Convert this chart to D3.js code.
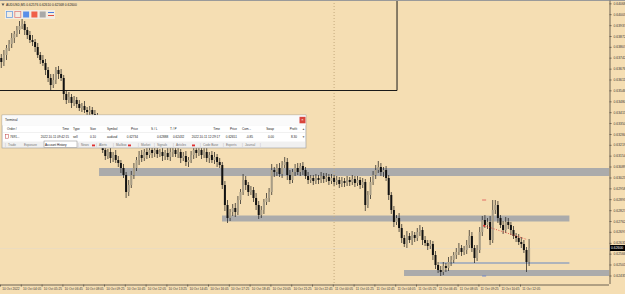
<!DOCTYPE html>
<html><head><meta charset="utf-8">
<script src="https://cdn.jsdelivr.net/npm/d3@7"></script>
<style>html,body{margin:0;padding:0;background:#F5DEB3;overflow:hidden}svg{display:block}text{font-family:"Liberation Sans",Arial,sans-serif}</style>
</head><body><svg id="c" width="625" height="294"></svg>
<script>
// ---------- data ----------
const closes = [
0.63716,0.63758,0.63800,0.63824,0.63860,0.63884,0.63908,0.63932,0.63944,0.63908,
0.63878,0.63848,0.63836,0.63806,0.63758,0.63728,0.63710,0.63668,0.63620,0.63578,
0.63608,0.63668,0.63644,0.63620,0.63524,0.63488,0.63506,0.63470,0.63488,0.63464,
0.63440,0.63452,0.63428,0.63416,0.63428,0.63404,0.63392,0.63320,0.63248,0.63188,
0.63152,0.63176,0.63140,0.63158,0.63128,0.63110,0.63080,0.63038,0.62936,0.62978,
0.63038,0.63080,0.63128,0.63158,0.63140,0.63176,0.63158,0.63188,0.63170,0.63188,
0.63164,0.63176,0.63152,0.63170,0.63146,0.63176,0.63188,0.63164,0.63176,0.63140,
0.63152,0.63116,0.63128,0.63158,0.63188,0.63170,0.63188,0.63158,0.63176,0.63140,
0.63158,0.63128,0.63146,0.63116,0.63098,0.62978,0.62858,0.62780,0.62816,0.62840,
0.62816,0.62888,0.62936,0.63008,0.62978,0.62936,0.62948,0.62900,0.62858,0.62798,
0.62828,0.62876,0.62900,0.62936,0.63068,0.63056,0.63080,0.63044,0.63098,0.63116,
0.63038,0.63008,0.63056,0.63080,0.63056,0.63092,0.63068,0.63032,0.63008,0.63020,
0.63002,0.63020,0.63008,0.63032,0.63014,0.63026,0.63002,0.63020,0.62996,0.63008,
0.62984,0.63002,0.62990,0.63008,0.62996,0.63014,0.62990,0.63008,0.62978,0.62996,
0.62858,0.62918,0.62996,0.63038,0.63068,0.63086,0.63056,0.63068,0.63020,0.62918,
0.62828,0.62756,0.62780,0.62720,0.62660,0.62624,0.62672,0.62648,0.62678,0.62660,
0.62696,0.62708,0.62648,0.62630,0.62612,0.62624,0.62558,0.62498,0.62468,0.62456,
0.62492,0.62480,0.62516,0.62528,0.62558,0.62576,0.62600,0.62576,0.62588,0.62618,
0.62672,0.62600,0.62540,0.62588,0.62696,0.62768,0.62738,0.62756,0.62648,0.62828,
0.62858,0.62780,0.62738,0.62708,0.62756,0.62738,0.62708,0.62672,0.62660,0.62636,
0.62624,0.62588,0.62516,0.62600
];
const firstOpen = 0.63740;
// wick extensions above / below the candle body, in points (0.00001)
const wickUp = [
24,30,18,24,30,18,24,30,30,18, 18,24,30,18,24,18,30,24,18,24, 36,18,24,30,18,24,30,18,24,18,
24,18,30,18,24,18,24,18,30,24, 30,18,24,18,30,24,18,24,18,30, 24,30,18,24,30,18,24,30,18,24,
30,18,24,18,30,24,18,30,24,18, 24,30,18,24,18,30,24,18,24,30, 18,24,30,18,24,18,24,30,18,24,
30,24,18,36,24,18,24,18,30,24, 24,18,30,24,36,18,24,30,24,30, 24,30,18,24,30,18,24,18,24,18,
18,24,18,24,18,24,18,24,18,24, 18,24,18,24,18,24,18,24,18,24, 18,24,30,24,30,36,24,18,24,18,
18,24,18,30,24,18,30,18,24,18, 24,30,18,24,18,24,18,24,18,24, 24,18,30,24,18,24,30,18,24,30,
36,24,18,30,30,24,30,24,36,60, 30,24,18,24,30,24,18,24,18,24, 30,24,18,54
];
const wickDown = [
36,24,30,18,24,30,18,24,18,30, 24,18,24,30,18,24,18,30,24,36, 18,24,30,18,36,24,18,30,18,24,
18,24,18,24,18,30,24,30,24,18, 24,18,30,24,18,24,30,18,36,24, 18,24,18,30,24,18,24,18,30,24,
24,18,30,24,18,24,30,18,24,30, 18,24,30,18,24,30,18,24,18,24, 30,18,24,30,18,24,36,30,18,24,
30,18,24,18,30,24,18,24,30,24, 18,24,18,24,18,30,24,18,24,18, 30,24,18,24,18,24,30,18,24,18,
24,18,24,18,24,18,24,18,24,18, 24,18,24,18,24,18,24,18,24,18, 36,18,24,18,24,18,24,30,18,30,
24,30,18,24,30,18,24,18,30,24, 18,24,30,18,24,18,30,24,18,24, 18,24,18,24,18,24,18,24,18,24,
18,24,30,18,18,24,18,24,30,18, 24,30,18,24,18,24,30,18,24,18, 24,18,60,24
];
const priceLabels = [0.64068,0.64003,0.63937,0.63872,0.63807,0.63742,0.63676,0.63611,0.63546,0.63480,
  0.63415,0.63350,0.63284,0.63219,0.63154,0.63089,0.63023,0.62958,0.62893,0.62827,
  0.62762,0.62697,0.62631,0.62566,0.62501,0.62435,0.62370];
const timeLabels = ["10 Oct 2022","10 Oct 04:05","10 Oct 05:25","10 Oct 06:45","10 Oct 08:05","10 Oct 09:25",
  "10 Oct 10:45","10 Oct 12:05","10 Oct 13:25","10 Oct 14:45","10 Oct 16:05","10 Oct 17:25","10 Oct 18:45",
  "10 Oct 20:05","10 Oct 21:25","10 Oct 22:45","11 Oct 00:05","11 Oct 01:25","11 Oct 02:45","11 Oct 04:05",
  "11 Oct 05:25","11 Oct 06:45","11 Oct 08:05","11 Oct 09:25","11 Oct 10:45","11 Oct 12:05"];
const timeLabelBars = [0,8,16,24,32,40,48,56,64,72,80,88,96,104,112,120,128,136,144,152,160,168,176,184,192,200];
const zoneTop    = [0.63080,0.62795,0.62516,0.62468];
const zoneBottom = [0.63032,0.62759,0.62504,0.62432];
const zoneStart  = [38.1,85.4,169.0,155.4];
const zoneEnd    = [234.3,219.0,219.0,234.3];
const boxBottom = 0.63548, boxRightBar = 152.7;
const separatorBar = 128.5;
const tradeOpenBar = 186.2, tradeOpenPrice = 0.62734;
const tradeCloseBar = 202.7, tradeClosePrice = 0.62651;
const tradeSL = 0.62888, tradeTP = 0.62432;
const currentPrice = 0.62600;
const headerText = "AUDUSD,M5  0.62576 0.62610 0.62568 0.62600";
const termHeaders = ["Order /","Time","Type","Size","Symbol","Price","S / L","T / P","Time","Price","Com...","Swap","Profit"];
const termRow = ["7691...","2022.10.11 09:42:15","sell","0.10","audusd","0.62734","0.62888","0.62432","2022.10.11 12:29:17","0.62651","-0.85","0.00","8.30"];
const termTabs = ["Trade","Exposure","Account History","News","Alerts","Mailbox","Market","Signals","Articles","Code Base","Experts","Journal"];

// ---------- layout ----------
const W=625,H=294,PR=609,PB=284;
const svg=d3.select("#c");
const x=d3.scaleLinear().domain([0,PR/2.6]).range([0,PR]);
const y=d3.scaleLinear().domain([0.62384,0.64088]).range([PB,0]);

svg.append("rect").attr("width",W).attr("height",H).attr("fill","#F5DEB3");

// zones
const zones=d3.range(zoneTop.length).map(i=>({t:zoneTop[i],b:zoneBottom[i],s:zoneStart[i],e:zoneEnd[i],i}));
svg.append("g").selectAll("rect").data(zones).join("rect")
  .attr("x",d=>x(d.s)).attr("width",d=>x(d.e)-x(d.s))
  .attr("y",d=>y(d.t)).attr("height",d=>y(d.b)-y(d.t))
  .attr("fill",d=>d.i===2?"#AEB3BB":"#ABABAB");

// period separator
svg.append("line").attr("x1",x(separatorBar)).attr("x2",x(separatorBar)).attr("y1",0).attr("y2",PB)
  .attr("stroke","#c4aa7e").attr("stroke-dasharray","1,2");

// bid line
svg.append("line").attr("x1",0).attr("x2",PR).attr("y1",Math.round(y(currentPrice))+0.5).attr("y2",Math.round(y(currentPrice))+0.5)
  .attr("stroke","#ecdcbf");

// box
svg.append("path").attr("d",`M0,${Math.round(y(boxBottom))+0.5}H${x(boxRightBar)}V0`).attr("fill","none").attr("stroke","#1a1a1a");

// candles
const bars=closes.map((c,i)=>{const o=i?closes[i-1]:firstOpen;
  return {i,o,c,h:Math.max(o,c)+wickUp[i]*1e-5,l:Math.min(o,c)-wickDown[i]*1e-5};});
svg.append("g").selectAll("line").data(bars).join("line")
  .attr("x1",d=>x(d.i+0.5)).attr("x2",d=>x(d.i+0.5))
  .attr("y1",d=>y(d.h)).attr("y2",d=>y(d.l))
  .attr("stroke","#1a1a1a").attr("stroke-width",0.7);
svg.append("g").selectAll("rect").data(bars).join("rect")
  .attr("x",d=>x(d.i+0.5)-1).attr("width",2)
  .attr("y",d=>y(Math.max(d.o,d.c)))
  .attr("height",d=>Math.max(1,Math.abs(y(d.o)-y(d.c))))
  .attr("fill",d=>d.c>=d.o?"#a89d86":"#111");

// trade
svg.append("line").attr("x1",x(tradeOpenBar)).attr("y1",y(tradeOpenPrice)).attr("x2",x(tradeCloseBar)).attr("y2",y(tradeClosePrice))
  .attr("stroke","#e03030").attr("stroke-dasharray","1,1.5").attr("stroke-width",0.8);
svg.append("circle").attr("cx",x(tradeOpenBar)).attr("cy",y(tradeOpenPrice)).attr("r",1).attr("fill","#e02020");
svg.append("line").attr("x1",x(tradeOpenBar)-2).attr("x2",x(tradeOpenBar)+2).attr("y1",y(tradeSL)).attr("y2",y(tradeSL)).attr("stroke","#e05050").attr("stroke-width",0.8);
svg.append("line").attr("x1",x(tradeOpenBar)-2).attr("x2",x(tradeOpenBar)+2).attr("y1",y(tradeTP)).attr("y2",y(tradeTP)).attr("stroke","#5a7ad0").attr("stroke-width",0.8);

// top border
svg.append("line").attr("x1",0).attr("x2",W).attr("y1",0.5).attr("y2",0.5).attr("stroke","#9a9a9a");

// axes
const gy=svg.append("g").attr("transform",`translate(${PR+0.5},0)`)
  .call(d3.axisRight(y).tickValues(priceLabels).tickSize(2).tickSizeOuter(0).tickPadding(2).tickFormat(d3.format(".5f")));
gy.select(".domain").attr("stroke","#6d6352");
gy.selectAll(".tick line").attr("stroke","#6d6352");
gy.selectAll("text").attr("font-size",3.4).attr("fill","#3a3a3a").attr("font-family","Liberation Sans");

const gx=svg.append("g").attr("transform",`translate(0,${PB+0.5})`)
  .call(d3.axisBottom(x).tickValues(timeLabelBars).tickSize(2).tickSizeOuter(0).tickPadding(1.5).tickFormat((d,i)=>timeLabels[i]));
gx.select(".domain").attr("stroke","#6d6352");
gx.selectAll(".tick line").attr("stroke","#6d6352");
gx.selectAll("text").attr("font-size",3.2).attr("fill","#3a3a3a").attr("text-anchor","start").attr("dx",1.7).attr("font-family","Liberation Sans");
svg.append("rect").attr("x",PR).attr("y",PB).attr("width",W-PR).attr("height",H-PB).attr("fill","#F5DEB3");

// current price label
const cy=y(currentPrice);
svg.append("rect").attr("x",PR+1).attr("y",cy-3).attr("width",15).attr("height",6).attr("fill","#000");
svg.append("text").attr("x",PR+2).attr("y",cy+1.2).attr("font-size",3.4).attr("fill","#fff").text(d3.format(".5f")(currentPrice));

// header
svg.append("path").attr("d","M1.5,3.5L4.5,3.5L3,6Z").attr("fill","#555");
svg.append("text").attr("x",6).attr("y",6.2).attr("font-size",3.3).attr("fill","#222").text(headerText);
const tb=svg.append("g");
tb.append("rect").attr("x",5).attr("y",10).attr("width",50).attr("height",9).attr("fill","#f2efe9").attr("opacity",0.85);
const icons=[["none","#6fa0e0"],["none","#e08080"],["#5b8fe8","none"],["#f0604a","none"],["#a8a8a8","none"],["lines",""]];
icons.forEach((ic,k)=>{const ix=6.5+k*8.3;
  if(ic[0]==="lines"){tb.append("line").attr("x1",ix).attr("x2",ix+6).attr("y1",12.5).attr("y2",12.5).attr("stroke","#4a80e0");
    tb.append("line").attr("x1",ix).attr("x2",ix+6).attr("y1",15.5).attr("y2",15.5).attr("stroke","#e05040");}
  else tb.append("rect").attr("x",ix).attr("y",11.5).attr("width",6).attr("height",6).attr("fill",ic[0]).attr("stroke",ic[1]).attr("stroke-width",0.8);
});

// terminal window
const T=svg.append("g").attr("transform","translate(2,115)");
T.append("rect").attr("x",0).attr("y",0).attr("width",304).attr("height",33).attr("fill","#f0f0f0").attr("stroke","#9a9a9a").attr("stroke-width",0.6);
T.append("rect").attr("x",0.3).attr("y",0.3).attr("width",303.4).attr("height",10).attr("fill","#fafafa");
T.append("text").attr("x",3).attr("y",6.3).attr("font-size",3.3).attr("fill","#222").text("Terminal");
T.append("rect").attr("x",297.5).attr("y",1.8).attr("width",6).attr("height",6.5).attr("fill","#d9453c");
T.append("text").attr("x",300.5).attr("y",6.2).attr("font-size",4).attr("fill","#fff").attr("text-anchor","middle").text("×");
T.append("rect").attr("x",1).attr("y",10.5).attr("width",302).attr("height",16).attr("fill","#fff");
T.append("line").attr("x1",1).attr("x2",303).attr("y1",17.5).attr("y2",17.5).attr("stroke","#e2e2e2").attr("stroke-width",0.5);
const colX=[5,67,71,94,105,136,149,168,218,235,240,272,295];
const colAnchor=["start","end","start","end","start","end","start","start","end","end","start","end","end"];
const rowX=[8,67,71,94,105,136,155,171,218,235,251,272,295];
const rowAnchor=["start","end","start","end","start","end","start","start","end","end","end","end","end"];
termHeaders.forEach((h,k)=>T.append("text").attr("x",colX[k]).attr("y",15.3).attr("font-size",3.1).attr("fill","#222").attr("text-anchor",colAnchor[k]).text(h));
T.append("rect").attr("x",3.5).attr("y",19.6).attr("width",3).attr("height",3.6).attr("fill","#fff").attr("stroke","#c04040").attr("stroke-width",0.5);
termRow.forEach((v,k)=>T.append("text").attr("x",rowX[k]).attr("y",23.3).attr("font-size",3.1).attr("fill","#222").attr("text-anchor",rowAnchor[k]).text(v));
T.append("text").attr("x",300).attr("y",15.3).attr("font-size",3).attr("fill","#666").text("▲");
T.append("text").attr("x",300).attr("y",23.3).attr("font-size",3).attr("fill","#666").text("▼");
const tabX=[6,22,43,79,97,114,139,155,174,201,224,243];
const tabW=[10,17,33,12,12,15,12,13,19,17,14,14];
termTabs.forEach((t,k)=>{
  if(k===2){T.append("rect").attr("x",tabX[k]-1).attr("y",26).attr("width",tabW[k]).attr("height",6.5).attr("fill","#fff").attr("stroke","#888").attr("stroke-width",0.5);}
  T.append("text").attr("x",tabX[k]).attr("y",30.8).attr("font-size",3.1).attr("fill",k===2?"#111":"#777").text(t);
  if(k!==1&&k!==2) T.append("text").attr("x",tabX[k]-3).attr("y",30.8).attr("font-size",3.1).attr("fill","#aaa").text("|");
});
[[90,"#e03030"],[126,"#e03030"],[190,"#e03030"]].forEach(b=>T.append("rect").attr("x",b[0]).attr("y",29.5).attr("width",3).attr("height",1.8).attr("fill",b[1]));
T.append("text").attr("x",258).attr("y",30.8).attr("font-size",3.1).attr("fill","#aaa").text("|");
</script></body></html>
